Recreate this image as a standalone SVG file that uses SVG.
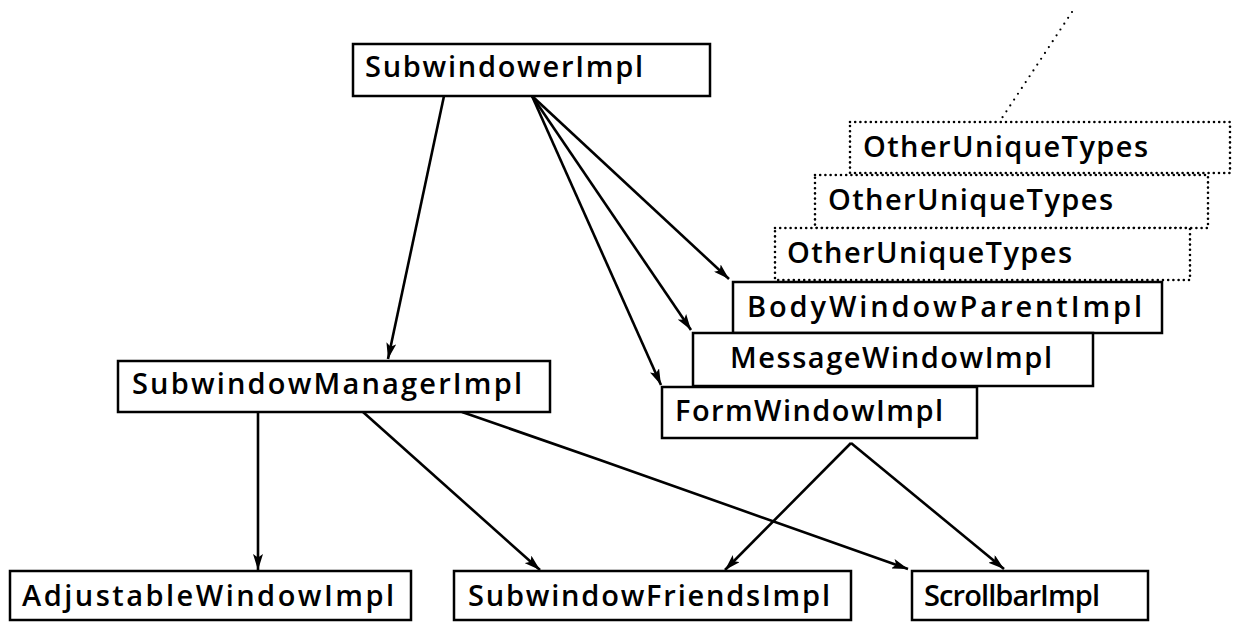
<svg xmlns="http://www.w3.org/2000/svg" width="1235" height="625" viewBox="0 0 1235 625">
<defs>
<style>
.box{fill:#fff;stroke:#000;stroke-width:2.5}
.dbox{fill:#fff;stroke:#000;stroke-width:2.6;stroke-dasharray:0 5.2;stroke-linecap:round}
.t{font-family:"Open Sans","DejaVu Sans",sans-serif;font-size:29px;font-weight:600;fill:#000}
.c{fill:none;stroke:#000;stroke-width:2.6}
.dl{fill:none;stroke:#000;stroke-width:2.2;stroke-dasharray:0 7;stroke-linecap:round}
</style>
<marker id="arr" viewBox="0 0 16 10" refX="16" refY="5" markerWidth="16" markerHeight="10" markerUnits="userSpaceOnUse" orient="auto">
<path d="M0,0 L16,5 L0,10 L3.5,5 z" fill="#000"/>
</marker>
</defs>
<rect width="1235" height="625" fill="#fff"/>

<g id="connectors">
<line class="c" x1="444" y1="96" x2="388" y2="359" marker-end="url(#arr)"/>
<line class="c" x1="532" y1="96" x2="729" y2="279" marker-end="url(#arr)"/>
<line class="c" x1="532" y1="96" x2="691" y2="330" marker-end="url(#arr)"/>
<line class="c" x1="532" y1="96" x2="661" y2="385" marker-end="url(#arr)"/>
<line class="c" x1="258" y1="412" x2="258" y2="570" marker-end="url(#arr)"/>
<line class="c" x1="363" y1="412" x2="540" y2="570" marker-end="url(#arr)"/>
<polyline class="c" points="462,412 600,460 908,569" marker-end="url(#arr)"/>
<line class="c" x1="851" y1="443" x2="725" y2="570" marker-end="url(#arr)"/>
<line class="c" x1="851" y1="443" x2="1004" y2="569" marker-end="url(#arr)"/>
<line class="dl" x1="1072" y1="12" x2="1000" y2="121"/>
</g>

<g id="SubwindowerImpl">
<rect class="box" x="353" y="44" width="357" height="52"/>
<text class="t" x="365" y="77" textLength="278" lengthAdjust="spacing">SubwindowerImpl</text>
</g>
<g id="OtherUniqueTypes1">
<rect class="dbox" x="850" y="122" width="380" height="51"/>
<text class="t" x="863" y="157" textLength="285" lengthAdjust="spacing">OtherUniqueTypes</text>
</g>
<g id="OtherUniqueTypes2">
<rect class="dbox" x="815" y="175" width="393" height="53"/>
<text class="t" x="828" y="210" textLength="285" lengthAdjust="spacing">OtherUniqueTypes</text>
</g>
<g id="OtherUniqueTypes3">
<rect class="dbox" x="775" y="228" width="415" height="52"/>
<text class="t" x="787" y="263" textLength="285" lengthAdjust="spacing">OtherUniqueTypes</text>
</g>
<g id="BodyWindowParentImpl">
<rect class="box" x="733" y="282" width="429" height="51"/>
<text class="t" x="747" y="317" textLength="395" lengthAdjust="spacing">BodyWindowParentImpl</text>
</g>
<g id="MessageWindowImpl">
<rect class="box" x="693" y="333" width="400" height="53"/>
<text class="t" x="730" y="368" textLength="322" lengthAdjust="spacing">MessageWindowImpl</text>
</g>
<g id="FormWindowImpl">
<rect class="box" x="662" y="387" width="315" height="51"/>
<text class="t" x="675" y="421" textLength="268" lengthAdjust="spacing">FormWindowImpl</text>
</g>
<g id="SubwindowManagerImpl">
<rect class="box" x="118" y="361" width="432" height="51"/>
<text class="t" x="132" y="394" textLength="390" lengthAdjust="spacing">SubwindowManagerImpl</text>
</g>
<g id="AdjustableWindowImpl">
<rect class="box" x="10" y="571" width="401" height="49"/>
<text class="t" x="22" y="606" textLength="372" lengthAdjust="spacing">AdjustableWindowImpl</text>
</g>
<g id="SubwindowFriendsImpl">
<rect class="box" x="454" y="571" width="397" height="49"/>
<text class="t" x="468" y="606" textLength="362" lengthAdjust="spacing">SubwindowFriendsImpl</text>
</g>
<g id="ScrollbarImpl">
<rect class="box" x="912" y="571" width="236" height="49"/>
<text class="t" x="924" y="606" textLength="176" lengthAdjust="spacing">ScrollbarImpl</text>
</g>
</svg>
